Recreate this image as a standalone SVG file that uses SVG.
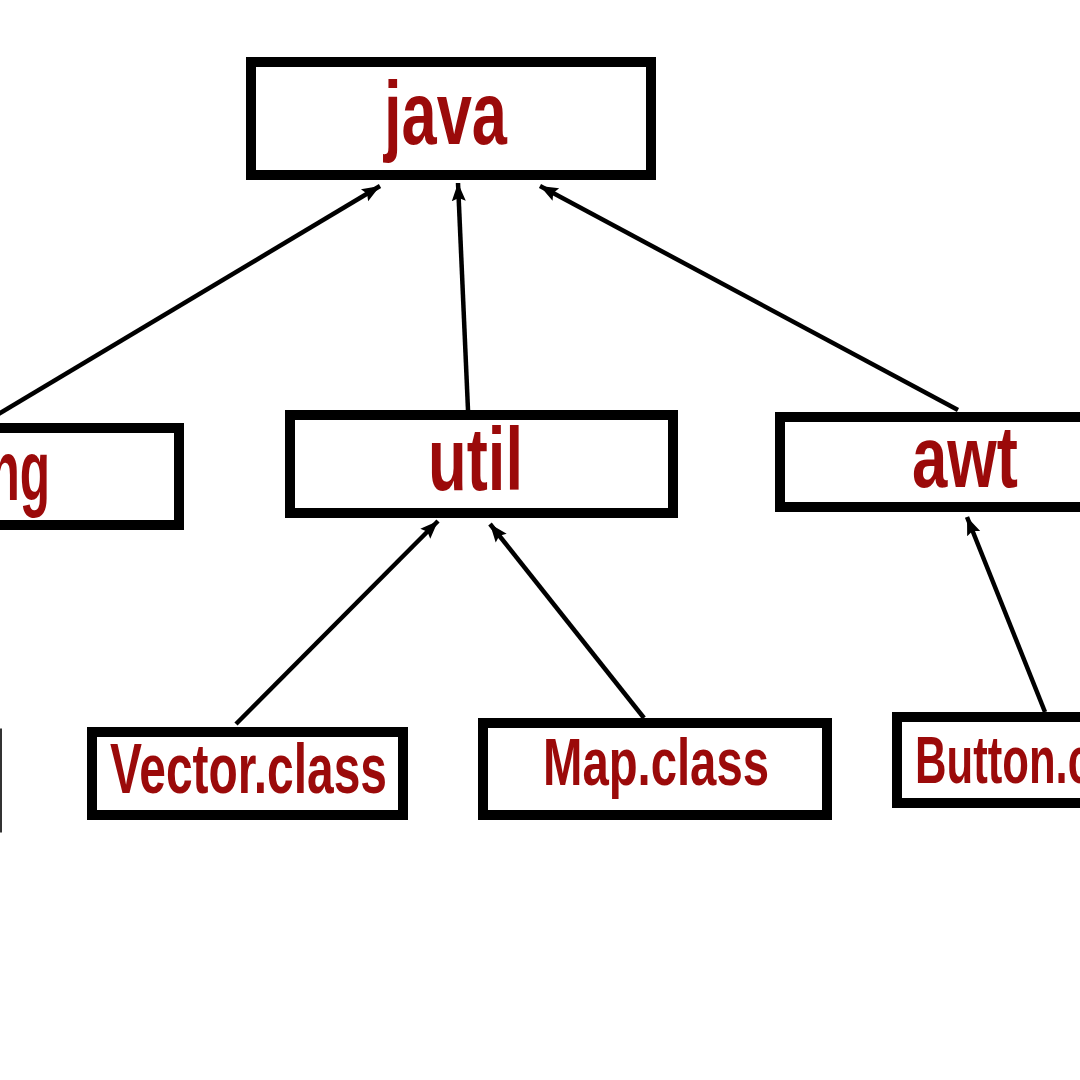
<svg xmlns="http://www.w3.org/2000/svg" width="1080" height="1080" viewBox="0 0 1080 1080">
  <style>
    .box { fill: #ffffff; stroke: #000000; stroke-width: 10; }
    .lbl { fill: #9b0a0a; font-family: "Liberation Sans", Arial, sans-serif; font-weight: bold; }
    .edge { stroke: #000000; stroke-width: 4.5; fill: none; marker-end: url(#arrow); }
  </style>
  <defs>
    <marker id="arrow" markerUnits="userSpaceOnUse" markerWidth="20" markerHeight="20" viewBox="0 0 20 20" refX="18" refY="10" orient="auto">
      <path d="M0,3 L18,10 L0,17 L3,10 Z" fill="#000000"/>
    </marker>
  </defs>
  <rect width="1080" height="1080" fill="#ffffff"/>

  <g id="connectors">
    <line class="edge" x1="-20" y1="425" x2="380" y2="186"/>
    <line class="edge" x1="468" y1="410" x2="458" y2="183"/>
    <line class="edge" x1="958" y1="410" x2="540" y2="186"/>
    <line class="edge" x1="236" y1="724" x2="438" y2="521"/>
    <line class="edge" x1="644" y1="718" x2="490" y2="524"/>
    <line class="edge" x1="1045" y1="712" x2="967" y2="517"/>
  </g>

  <g id="node-java">
    <rect class="box" x="251" y="62" width="400" height="113"/>
    <text class="lbl" x="384" y="144" font-size="89" textLength="123" lengthAdjust="spacingAndGlyphs">java</text>
  </g>

  <g id="node-lang">
    <rect class="box" x="-200" y="428" width="379" height="97"/>
    <text class="lbl" x="-52" y="500" font-size="86" textLength="102" lengthAdjust="spacingAndGlyphs">lang</text>
  </g>

  <g id="node-util">
    <rect class="box" x="290" y="415" width="383" height="98"/>
    <text class="lbl" x="428" y="490" font-size="89" textLength="95" lengthAdjust="spacingAndGlyphs">util</text>
  </g>

  <g id="node-awt">
    <rect class="box" x="780" y="417" width="400" height="90"/>
    <text class="lbl" x="912" y="487" font-size="87" textLength="106" lengthAdjust="spacingAndGlyphs">awt</text>
  </g>

  <g id="node-left">
    <rect x="-200" y="730" width="200.5" height="101" fill="#ffffff" stroke="#333333" stroke-width="3"/>
  </g>

  <g id="node-vector">
    <rect class="box" x="92" y="732" width="311" height="83"/>
    <text class="lbl" x="110" y="793" font-size="70" textLength="277" lengthAdjust="spacingAndGlyphs">Vector.class</text>
  </g>

  <g id="node-map">
    <rect class="box" x="483" y="723" width="344" height="92"/>
    <text class="lbl" x="543" y="785" font-size="66" textLength="226" lengthAdjust="spacingAndGlyphs">Map.class</text>
  </g>

  <g id="node-button">
    <rect class="box" x="897" y="717" width="300" height="86"/>
    <text class="lbl" x="915" y="783" font-size="67" textLength="262" lengthAdjust="spacingAndGlyphs">Button.class</text>
  </g>
</svg>
